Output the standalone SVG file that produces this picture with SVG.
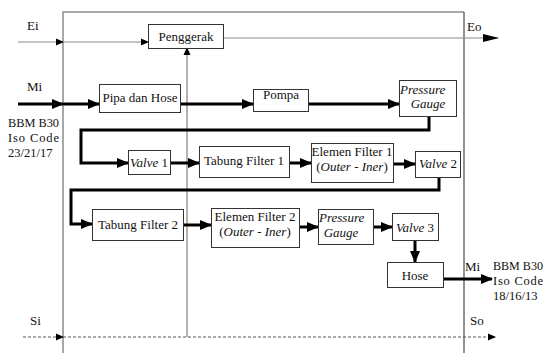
<svg xmlns="http://www.w3.org/2000/svg" width="544" height="353" viewBox="0 0 544 353">
  <style>
    text { font-family: 'Times New Roman', Times, 'Liberation Serif', 'DejaVu Serif', serif; font-size: 13px; fill: #111; }
    .c { text-anchor: middle; }
    .i { font-style: italic; }
    .s { font-size: 12.5px; }
    .box { fill: #fff; stroke: #333; stroke-width: 1; }
    .thick { fill: none; stroke: #000; stroke-width: 3; }
    .thin { fill: none; stroke: #8c8c8c; stroke-width: 1.2; }
    .dash { fill: none; stroke: #555; stroke-width: 1; stroke-dasharray: 3 2; }
    .frame { fill: none; stroke: #8c8c8c; stroke-width: 1.5; }
  </style>
  <defs>
    <marker id="ah" markerUnits="userSpaceOnUse" markerWidth="12" markerHeight="10" refX="11" refY="5" orient="auto">
      <path d="M0,0 L12,5 L0,10 Z" fill="#000"/>
    </marker>
    <marker id="as" markerUnits="userSpaceOnUse" markerWidth="8" markerHeight="8" refX="7" refY="4" orient="auto">
      <path d="M0,0.5 L8,4 L0,7.5 Z" fill="#000"/>
    </marker>
    <marker id="ae" markerUnits="userSpaceOnUse" markerWidth="16" markerHeight="8" refX="15" refY="4" orient="auto">
      <path d="M0,0 L16,4 L0,8 Z" fill="#000"/>
    </marker>
  </defs>

  <!-- system boundary -->
  <path class="frame" d="M63,353 V12 H464"/>
  <path d="M464,12 V353" fill="none" stroke="#555" stroke-width="1.3"/>

  <!-- connectors -->
  <g id="connectors">
    <!-- energy -->
    <line class="thin" x1="18" y1="42" x2="63" y2="42" marker-end="url(#as)"/>
    <line class="thin" x1="63" y1="42" x2="148" y2="42" marker-end="url(#as)"/>
    <line class="thin" x1="224" y1="38" x2="498" y2="38" marker-end="url(#ae)"/>
    <line x1="187" y1="337" x2="187" y2="48" stroke="#666" stroke-width="1" marker-end="url(#as)"/>
    <!-- material flow -->
    <line class="thick" x1="18" y1="104" x2="63" y2="104" marker-end="url(#ah)"/>
    <line class="thick" x1="63" y1="104" x2="99" y2="104" marker-end="url(#ah)"/>
    <line class="thick" x1="180" y1="104" x2="253" y2="104" marker-end="url(#ah)"/>
    <line class="thick" x1="308" y1="104" x2="399" y2="104" marker-end="url(#ah)"/>
    <path class="thick" d="M429,117 V130 H81 V163 H128" marker-end="url(#ah)"/>
    <line class="thick" x1="170" y1="163" x2="199" y2="163" marker-end="url(#ah)"/>
    <line class="thick" x1="289" y1="163" x2="311" y2="163" marker-end="url(#ah)"/>
    <line class="thick" x1="393" y1="164" x2="415" y2="164" marker-end="url(#ah)"/>
    <path class="thick" d="M439,177 V190 H71 V224 H92" marker-end="url(#ah)"/>
    <line class="thick" x1="183" y1="225" x2="211" y2="225" marker-end="url(#ah)"/>
    <line class="thick" x1="299" y1="227" x2="318" y2="227" marker-end="url(#ah)"/>
    <line class="thick" x1="373" y1="227" x2="392" y2="227" marker-end="url(#ah)"/>
    <line class="thick" x1="415" y1="240" x2="415" y2="262" marker-end="url(#ah)"/>
    <line class="thick" x1="443" y1="279" x2="492" y2="279" marker-end="url(#ah)"/>
    <!-- signal -->
    <line class="dash" x1="23" y1="337" x2="63" y2="337" marker-end="url(#as)"/>
    <line class="dash" x1="63" y1="337" x2="495" y2="337" marker-end="url(#as)"/>
  </g>

  <!-- flow labels -->
  <text x="27" y="30">Ei</text>
  <text x="467" y="31">Eo</text>
  <text x="27" y="91">Mi</text>
  <text class="s" x="8" y="127" textLength="51" lengthAdjust="spacingAndGlyphs">BBM B30</text>
  <text class="s" x="8" y="142" textLength="51" lengthAdjust="spacing">Iso Code</text>
  <text class="s" x="8" y="157">23/21/17</text>
  <text x="465" y="271">Mi</text>
  <text class="s" x="493" y="270" textLength="50" lengthAdjust="spacingAndGlyphs">BBM B30</text>
  <text class="s" x="493" y="285" textLength="50" lengthAdjust="spacing">Iso Code</text>
  <text class="s" x="493" y="300">18/16/13</text>
  <text x="30" y="325">Si</text>
  <text x="470" y="325">So</text>

  <!-- process blocks -->
  <g id="penggerak">
    <rect class="box" x="148.5" y="24.5" width="75" height="24"/>
    <text class="c" x="186" y="41">Penggerak</text>
  </g>
  <g id="pipa-hose">
    <rect class="box" x="99.5" y="84.5" width="81" height="28"/>
    <text class="c" x="140" y="102">Pipa dan Hose</text>
  </g>
  <g id="pompa">
    <rect class="box" x="253.5" y="89.5" width="55" height="22"/>
    <text class="c" x="281" y="99">Pompa</text>
  </g>
  <g id="pressure-gauge-1">
    <rect class="box" x="399.5" y="80.5" width="57" height="36"/>
    <text class="i" x="400" y="94">Pressure</text>
    <text class="c i" x="428" y="108">Gauge</text>
  </g>
  <g id="valve-1">
    <rect class="box" x="128.5" y="150.5" width="42" height="24"/>
    <text class="c" x="149" y="167"><tspan class="i">Valve</tspan> 1</text>
  </g>
  <g id="tabung-filter-1">
    <rect class="box" x="199.5" y="146.5" width="90" height="31"/>
    <text class="c" x="244" y="165">Tabung Filter 1</text>
  </g>
  <g id="elemen-filter-1">
    <rect class="box" x="311.5" y="143.5" width="82" height="39"/>
    <text class="c" x="352" y="156">Elemen Filter 1</text>
    <text class="c" x="352" y="171">(<tspan class="i">Outer - Iner</tspan>)</text>
  </g>
  <g id="valve-2">
    <rect class="box" x="415.5" y="151.5" width="45" height="26"/>
    <text class="c" x="438" y="168"><tspan class="i">Valve</tspan> 2</text>
  </g>
  <g id="tabung-filter-2">
    <rect class="box" x="92.5" y="209.5" width="91" height="31"/>
    <text class="c" x="138" y="229">Tabung Filter 2</text>
  </g>
  <g id="elemen-filter-2">
    <rect class="box" x="211.5" y="208.5" width="88" height="39"/>
    <text class="c" x="255" y="221">Elemen Filter 2</text>
    <text class="c" x="255" y="236">(<tspan class="i">Outer - Iner</tspan>)</text>
  </g>
  <g id="pressure-gauge-2">
    <rect class="box" x="318.5" y="209.5" width="55" height="35"/>
    <text class="i" x="319" y="222">Pressure</text>
    <text class="c i" x="341" y="237">Gauge</text>
  </g>
  <g id="valve-3">
    <rect class="box" x="392.5" y="213.5" width="46" height="27"/>
    <text class="c" x="415" y="232"><tspan class="i">Valve</tspan> 3</text>
  </g>
  <g id="hose">
    <rect class="box" x="387.5" y="262.5" width="56" height="25"/>
    <text class="c" x="415" y="280">Hose</text>
  </g>
</svg>
